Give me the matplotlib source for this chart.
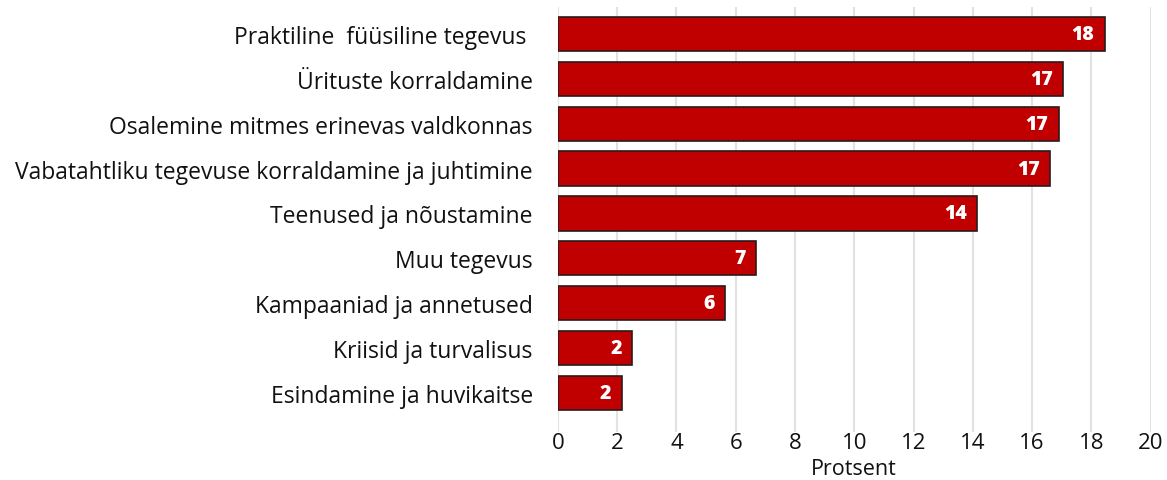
import matplotlib.pyplot as plt
import numpy as np

categories = ["Praktiline  füüsiline tegevus ", "Ürituste korraldamine",
              "Osalemine mitmes erinevas valdkonnas",
              "Vabatahtliku tegevuse korraldamine ja juhtimine",
              "Teenused ja nõustamine", "Muu tegevus", "Kampaaniad ja annetused",
              "Kriisid ja turvalisus", "Esindamine ja huvikaitse"]
values = [18.45, 17.05, 16.9, 16.6, 14.15, 6.7, 5.65, 2.5, 2.15]
ticks = [0, 2, 4, 6, 8, 10, 12, 14, 16, 18, 20]

plt.rcParams['font.family'] = ['Open Sans', 'DejaVu Sans']

fig = plt.figure(figsize=(11.67, 4.81), dpi=100)
ax = fig.add_axes([0.478, 0.1, 0.508, 0.883])

y = np.arange(len(categories))
ax.barh(y, values, height=0.76, color='#c00000', edgecolor='#2a1a1a', linewidth=1.2, zorder=3)
for yi, v in zip(y, values):
    ax.text(v - 0.35, yi, str(int(round(v))), ha='right', va='center',
            color='white', fontsize=14, fontweight='heavy', zorder=4)

ax.set_yticks(y)
ax.set_yticklabels(categories, fontsize=16.5, color='#111111')
ax.set_ylim(8.86, -0.59)
ax.set_xlim(0, 20)
ax.set_xticks(ticks)
ax.set_xticklabels([str(t) for t in ticks], fontsize=16, color='#111111')
ax.set_xlabel("Protsent", fontsize=15.5, labelpad=4, color='#111111')
ax.tick_params(axis='y', length=0, pad=18)
ax.tick_params(axis='x', length=0, pad=0)
ax.grid(axis='x', color='#e2e2e2', linewidth=1.5, zorder=0)
for s in ax.spines.values():
    s.set_visible(False)

fig.savefig("out.png", dpi=100)
